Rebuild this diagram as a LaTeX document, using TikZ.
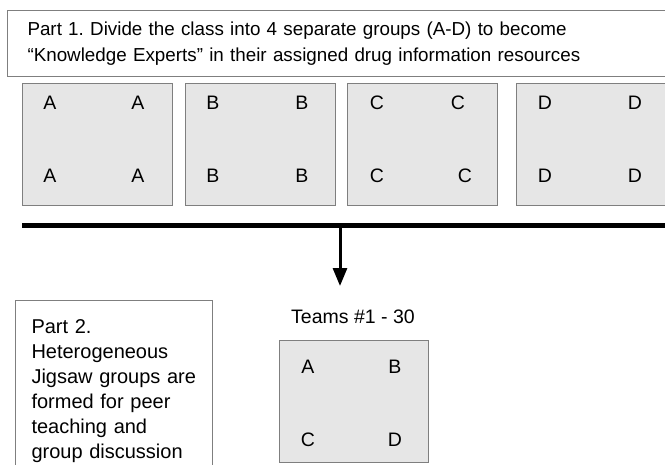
\documentclass[tikz,border=0pt]{standalone}
\usepackage{fontspec}
\setmainfont{Liberation Sans}
\usetikzlibrary{arrows.meta, positioning}
\definecolor{boxgray}{HTML}{E6E6E6}
\definecolor{edgegray}{HTML}{7F7F7F}
\frenchspacing

\tikzset{
  group/.style={draw=edgegray, fill=boxgray, line width=1.2pt, rectangle,
    minimum width=150pt, minimum height=122pt, anchor=north west, inner sep=0pt},
  member/.style={font=\fontsize{19.5}{22}\selectfont, inner sep=0pt},
  note/.style={draw=edgegray, line width=1pt, rectangle, anchor=north west,
    align=left},
}

\begin{document}
\begin{tikzpicture}[x=1pt, y=-1pt]
\clip (0,0) rectangle (665,464);
\fill[white] (0,0) rectangle (665,464);

\node (Part1) [note, text width=680pt, inner xsep=20pt, minimum height=66pt,
  font=\fontsize{18.8}{26}\selectfont] at (7,10)
  {Part 1. Divide the class into 4 separate groups (A-D) to become\\
   ``Knowledge Experts'' in their assigned drug information resources};

\node (GroupA) [group] at (22,83) {};
\node (GroupB) [group] at (185,83) {};
\node (GroupC) [group] at (347,83) {};
\node (GroupD) [group] at (516,83) {};

\node (A1) [member] at (50,103) {A};
\node (A2) [member] at (138,103) {A};
\node (A3) [member] at (50,176) {A};
\node (A4) [member] at (138,176) {A};
\node (B1) [member] at (213,103) {B};
\node (B2) [member] at (302,103) {B};
\node (B3) [member] at (213,176) {B};
\node (B4) [member] at (302,176) {B};
\node (C1) [member] at (377,103) {C};
\node (C2) [member] at (458,103) {C};
\node (C3) [member] at (377,176) {C};
\node (C4) [member] at (465,176) {C};
\node (D1) [member] at (545,103) {D};
\node (D2) [member] at (635,103) {D};
\node (D3) [member] at (545,176) {D};
\node (D4) [member] at (635,176) {D};

\coordinate (BarL) at (22,225);
\coordinate (BarR) at (670,225);
\coordinate (BarMid) at (340,225);
\coordinate (Tip) at (340,286);
\draw[line width=5pt] (BarL) -- (BarR);
\draw[line width=3pt, -{Triangle[length=18pt, width=14pt]}] (BarMid) -- (Tip);

\node (Part2) [note, text width=165pt, inner xsep=16pt, inner ysep=19pt,
  font=\fontsize{20}{25}\selectfont] at (15,300)
  {Part 2.\\ Heterogeneous\\ Jigsaw groups are\\ formed for peer\\ teaching and\\ group discussion};

\node (Teams) [member] at (353,317) {Teams \#1 - 30};
\node (Team) [group, minimum width=149pt] at (279,340) {};
\node (TA) [member] at (308,367) {A};
\node (TB) [member] at (395,367) {B};
\node (TC) [member] at (308,440) {C};
\node (TD) [member] at (395,440) {D};
\end{tikzpicture}
\end{document}
